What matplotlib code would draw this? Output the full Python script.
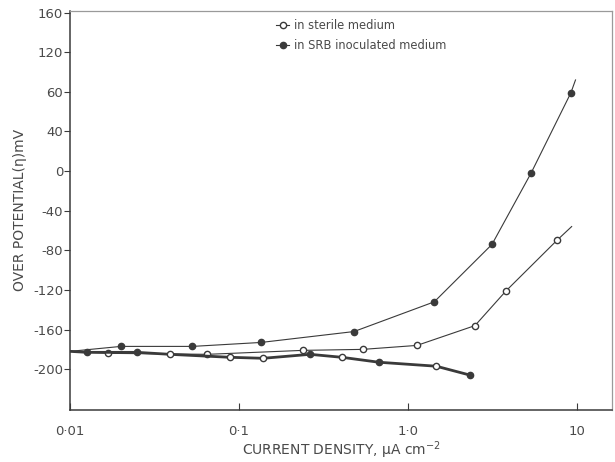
import numpy as np
import matplotlib
matplotlib.use('Agg')
import matplotlib.pyplot as plt

# Anodic branch, sterile medium (open circles); last point is the curve end, unmarked
sterile_an_i = [0.01, 0.0168, 0.065, 0.239, 0.54, 1.13, 2.49, 3.80, 7.6, 9.3]
sterile_an_eta = [-182, -184, -185, -181, -180, -176, -156, -121, -70, -56]

# Anodic branch, SRB inoculated medium (filled circles)
srb_an_i = [0.01, 0.020, 0.053, 0.135, 0.479, 1.43, 3.14, 5.35, 9.2, 9.8]
srb_an_eta = [-182, -177, -177, -173, -162, -132, -74, -2, 79, 92]

# Cathodic branches, nearly coincident -> drawn as one heavy line
sterile_cat_i = [0.039, 0.0885, 0.139, 0.406, 1.47]
sterile_cat_eta = [-185, -188, -189, -188, -197]
srb_cat_i = [0.0126, 0.0249, 0.263, 0.673, 2.33]
srb_cat_eta = [-183, -183, -185, -193, -206]
cat_start = (0.01, -182)

xticks = [0.01, 0.1, 1.0, 10]
xtick_labels = ['0·01', '0·1', '1·0', '10']
yticks = [160, 120, 80, 40, 0, -40, -80, -120, -160, -200]
ytick_labels = ['160', '120', '60', '40', '0', '-40', '-80', '-120', '-160', '-200']

ink = '#3a3a3a'
txt = '#4a4a4a'

fig = plt.figure(figsize=(6.15, 4.62), dpi=100)
ax = fig.add_axes([0.114, 0.113, 0.881, 0.864])

ax.plot(sterile_an_i, sterile_an_eta, color=ink, lw=0.8, marker='o', ms=4.5,
        mfc='white', mec=ink, mew=1.0, markevery=list(range(1, len(sterile_an_i) - 1)),
        label='in sterile medium')
ax.plot(srb_an_i, srb_an_eta, color=ink, lw=0.8, marker='o', ms=4.5,
        mfc=ink, mec=ink, markevery=list(range(1, len(srb_an_i) - 1)),
        label='in SRB inoculated medium')

# heavy cathodic line through both sets of points
cat_i = np.concatenate([[cat_start[0]], sterile_cat_i, srb_cat_i])
cat_eta = np.concatenate([[cat_start[1]], sterile_cat_eta, srb_cat_eta])
order = np.argsort(cat_i)
ax.plot(cat_i[order], cat_eta[order], color=ink, lw=2.0, zorder=2)
ax.plot(sterile_cat_i, sterile_cat_eta, ls='none', marker='o', ms=4.5,
        mfc='white', mec=ink, mew=1.0, zorder=3)
ax.plot(srb_cat_i, srb_cat_eta, ls='none', marker='o', ms=4.5,
        mfc=ink, mec=ink, zorder=3)

ax.set_xscale('log')
ax.set_xlim(0.01, 16.1)
ax.set_ylim(-241, 162)
ax.set_xticks(xticks)
ax.set_xticklabels(xtick_labels)
ax.minorticks_off()
ax.set_yticks(yticks)
ax.set_yticklabels(ytick_labels)

ax.tick_params(axis='x', direction='in', length=5, color=ink, labelsize=9.5,
               labelcolor=txt, pad=11)
ax.tick_params(axis='y', direction='out', length=4, color=ink, labelsize=9.5,
               labelcolor=txt, pad=1)

for side in ['left', 'bottom']:
    ax.spines[side].set_color(ink)
    ax.spines[side].set_linewidth(1.1)
for side in ['top', 'right']:
    ax.spines[side].set_color('#9a9a9a')
    ax.spines[side].set_linewidth(0.9)

ax.set_ylabel('OVER POTENTIAL(η)mV', fontsize=10, color=txt, labelpad=4)
ax.set_xlabel('CURRENT DENSITY, μA cm$^{-2}$', fontsize=10, color=txt, labelpad=1)

leg = ax.legend(loc='upper left', bbox_to_anchor=(0.372, 0.99), frameon=False,
                handlelength=1.1, handletextpad=0.45, labelspacing=0.55,
                borderaxespad=0, fontsize=8.3)
for t in leg.get_texts():
    t.set_color(txt)

fig.savefig('out.png', dpi=100)
